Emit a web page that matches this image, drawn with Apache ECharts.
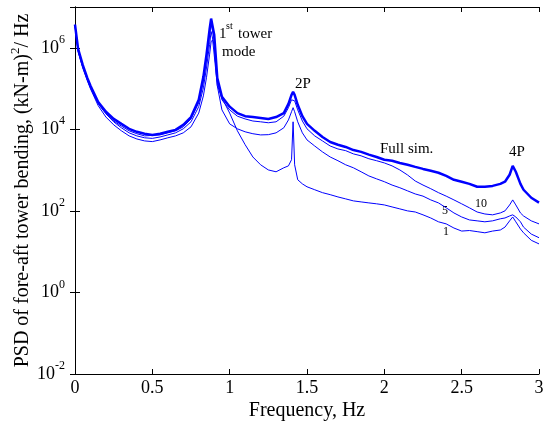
<!DOCTYPE html>
<html>
<head>
<meta charset="utf-8">
<script src="https://cdn.jsdelivr.net/npm/echarts@6.0.0/dist/echarts.min.js"></script>
<style>
  html, body { margin: 0; padding: 0; background: #fff; }
  #chart { width: 544px; height: 425px; }
</style>
</head>
<body>
<div id="chart"></div>
<script>
// frequency grid, Hz
const freq = [0, 0.02, 0.05, 0.08, 0.1, 0.15, 0.2, 0.25, 0.3, 0.35, 0.4, 0.45, 0.5, 0.55, 0.6, 0.65, 0.7, 0.75, 0.8,
  0.83, 0.85, 0.87, 0.88, 0.89, 0.9, 0.92, 0.95, 1.0, 1.05, 1.1, 1.15, 1.2, 1.25, 1.3, 1.35, 1.38, 1.4, 1.41, 1.42,
  1.44, 1.47, 1.5, 1.55, 1.6, 1.65, 1.7, 1.75, 1.8, 1.85, 1.9, 1.95, 2.0, 2.05, 2.1, 2.15, 2.2, 2.25, 2.3, 2.35, 2.4,
  2.45, 2.5, 2.55, 2.6, 2.65, 2.7, 2.75, 2.78, 2.81, 2.83, 2.85, 2.88, 2.9, 2.95, 3.0];

// PSD, (kN-m)^2/Hz
const fullSim = [3.7e6, 9.4e5, 3.8e5, 1.8e5, 1.17e5, 4.7e4, 2.7e4, 1.8e4, 1.36e4, 1.03e4,
  8.7e3, 7.8e3, 7.3e3, 7.8e3, 8.7e3, 9.7e3, 1.29e4, 2.0e4, 5.3e4, 1.94e5,
  6.7e5, 2.8e6, 5.2e6, 4.9e6, 2.1e6, 1.8e5, 6.3e4, 3.6e4, 2.5e4, 2.1e4,
  2.0e4, 1.9e4, 1.8e4, 2.0e4, 2.5e4, 4.2e4, 7.0e4, 8.3e4, 7.0e4, 4.0e4,
  2.1e4, 1.36e4, 9.2e3, 6.5e3, 4.9e3, 4.2e3, 3.7e3, 3.1e3, 2.8e3, 2.4e3,
  2.1e3, 1.8e3, 1.7e3, 1.5e3, 1.35e3, 1.2e3, 1.07e3, 960, 860, 720,
  580, 520, 460, 390, 390, 410, 460, 520, 770, 1270,
  910, 460, 330, 210, 160];

const sim10 = [3.7e6, 8.9e5, 3.6e5, 1.73e5, 1.1e5, 4.5e4, 2.5e4, 1.6e4, 1.2e4, 9.2e3,
  7.8e3, 6.9e3, 7.1e3, 7.3e3, 8.2e3, 9.2e3, 1.15e4, 1.8e4, 4.5e4, 1.47e5,
  5.1e5, 2.0e6, 3.9e6, 3.7e6, 1.57e6, 1.64e5, 5.3e4, 3.0e4, 2.1e4, 1.8e4,
  1.6e4, 1.53e4, 1.45e4, 1.53e4, 2.1e4, 3.4e4, 5.3e4, 5.9e4, 5.0e4, 3.0e4,
  1.6e4, 1.03e4, 6.9e3, 5.2e3, 3.9e3, 3.3e3, 3.0e3, 2.5e3, 2.24e3, 1.9e3,
  1.7e3, 1.5e3, 1.27e3, 1.01e3, 760, 540, 430, 350, 280, 230,
  186, 149, 119, 94, 84, 80, 89, 100, 140, 186,
  140, 89, 75, 57, 48];

const sim5 = [3.5e6, 8.4e5, 3.4e5, 1.64e5, 1.04e5, 4.2e4, 2.4e4, 1.53e4, 1.09e4, 8.2e3,
  6.9e3, 6.2e3, 6.0e3, 6.5e3, 7.3e3, 8.2e3, 1.03e4, 1.53e4, 3.6e4, 1.04e5,
  3.2e5, 1.19e6, 2.5e6, 2.6e6, 1.12e6, 1.17e5, 3.0e4, 1.36e4, 1.03e4, 8.7e3,
  7.8e3, 7.3e3, 7.4e3, 8.2e3, 1.09e4, 1.7e4, 2.7e4, 3.4e4, 2.7e4, 1.53e4,
  8.2e3, 5.5e3, 3.9e3, 2.8e3, 2.1e3, 1.7e3, 1.35e3, 1.14e3, 910, 720,
  610, 520, 430, 370, 310, 260, 230, 186, 157, 119,
  89, 71, 60, 57, 54, 57, 64, 67, 75, 80,
  71, 54, 40, 27, 22];

const sim1 = [3.3e6, 8.0e5, 3.2e5, 1.55e5, 9.9e4, 3.8e4, 2.0e4, 1.29e4, 9.2e3, 6.9e3,
  5.8e3, 5.2e3, 5.0e3, 5.5e3, 6.2e3, 6.9e3, 8.2e3, 1.15e4, 2.5e4, 6.6e4,
  1.84e5, 6.7e5, 1.4e6, 1.57e6, 6.7e5, 1.2e5, 5.9e4, 2.5e4, 9.2e3, 4.2e3,
  2.1e3, 1.35e3, 1.01e3, 910, 1.14e3, 1.27e3, 1.8e3, 1.53e4, 1.35e3, 580,
  460, 390, 330, 280, 250, 220, 197, 176, 166, 157,
  149, 140, 125, 112, 100, 94, 80, 67, 54, 48,
  38, 32, 33, 31, 29, 32, 34, 40, 57, 71,
  54, 36, 29, 19, 15.5];

// y tick labels shown as powers of ten
const yTickExps = [-2, 0, 2, 4, 6];

const serif = '"Liberation Serif", "Times New Roman", serif';
const blue = '#0000ff';

const pairs = (vals) => freq.map((f, i) => [f, vals[i]]);

const chart = echarts.init(document.getElementById('chart'));

const yAxisBase = {
  type: 'log',
  logBase: 100,
  min: 0.01,
  max: 1e7,
  splitLine: { show: false },
  axisLine: { show: true, lineStyle: { color: '#000', width: 1 } },
  axisTick: { show: true, inside: true, length: 5, lineStyle: { color: '#000' } },
};

const xAxisBase = {
  type: 'value',
  min: 0,
  max: 3,
  interval: 0.5,
  splitLine: { show: false },
  axisLine: { show: true, onZero: false, lineStyle: { color: '#000', width: 1 } },
  axisTick: { show: true, inside: true, length: 5, lineStyle: { color: '#000' } },
};

const txt = (x, y, text, size) => ({
  type: 'text',
  x: x,
  y: y,
  style: {
    text: text,
    font: size + 'px ' + serif,
    fill: '#000',
    textVerticalAlign: 'middle',
  },
});

const option = {
  animation: false,
  backgroundColor: '#fff',
  grid: { left: 75, right: 5, top: 7, bottom: 51, containLabel: false, outerBoundsMode: 'none' },
  xAxis: [
    Object.assign({}, xAxisBase, {
      position: 'bottom',
      name: 'Frequency, Hz',
      nameLocation: 'middle',
      nameGap: 27,
      nameMoveOverlap: false,
      nameTextStyle: { fontFamily: serif, fontSize: 20, color: '#000' },
      axisLabel: { margin: 5, fontFamily: serif, fontSize: 18, color: '#000' },
    }),
    Object.assign({}, xAxisBase, {
      position: 'top',
      axisLabel: { show: false },
    }),
  ],
  yAxis: [
    Object.assign({}, yAxisBase, {
      position: 'left',
      name: '{t|PSD of fore-aft tower bending, (kN-m)}{s|2}{t|/ Hz}',
      nameLocation: 'middle',
      nameGap: 38,
      nameMoveOverlap: false,
      nameRotate: 90,
      nameTextStyle: {
        color: '#000',
        rich: {
          t: { fontFamily: serif, fontSize: 20, color: '#000', lineHeight: 28 },
          s: { fontFamily: serif, fontSize: 13, color: '#000', verticalAlign: 'top' },
        },
      },
      axisLabel: {
        margin: 10,
        formatter: function (v) {
          const e = Math.round(Math.log10(v));
          return yTickExps.indexOf(e) >= 0 ? '{b|10}{s|' + e + '}' : '';
        },
        rich: {
          b: { fontFamily: serif, fontSize: 18, color: '#000', lineHeight: 28 },
          s: { fontFamily: serif, fontSize: 12, color: '#000', verticalAlign: 'top' },
        },
      },
    }),
    Object.assign({}, yAxisBase, {
      position: 'right',
      axisLabel: { show: false },
    }),
  ],
  series: [
    { name: '1', data: pairs(sim1), width: 1 },
    { name: '5', data: pairs(sim5), width: 1 },
    { name: '10', data: pairs(sim10), width: 1 },
    { name: 'Full sim.', data: pairs(fullSim), width: 2.5 },
  ].map((s) => ({
    type: 'line',
    name: s.name,
    data: s.data,
    xAxisIndex: 0,
    yAxisIndex: 0,
    showSymbol: false,
    symbol: 'none',
    lineStyle: { color: blue, width: s.width },
    emphasis: { disabled: true },
  })),
  graphic: [
    txt(219, 34, '1', 15),
    txt(226, 26, 'st', 10),
    txt(238, 34, 'tower', 15),
    txt(222, 52, 'mode', 15),
    txt(295, 84, '2P', 15),
    txt(380, 149, 'Full sim.', 15),
    txt(509, 152, '4P', 15),
    txt(475, 204, '10', 12),
    txt(442, 211, '5', 12),
    txt(443, 232, '1', 12),
  ],
};

chart.setOption(option);
</script>
</body>
</html>
